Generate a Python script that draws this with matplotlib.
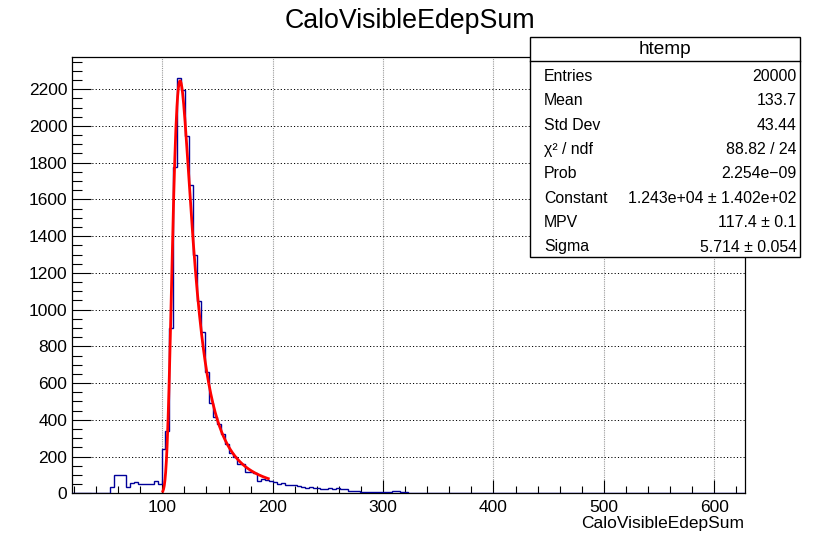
import numpy as np
import matplotlib
matplotlib.use("Agg")
import matplotlib.pyplot as plt
from matplotlib.patches import Rectangle
from matplotlib.ticker import MultipleLocator

plt.rcParams['font.family'] = ['Liberation Sans', 'DejaVu Sans']

# histogram htemp: fixed-width bins starting at bin_lo
bin_lo = 16.5
bin_width = 3.6
counts = [
    0, 0, 0, 0, 0, 0, 0, 0, 0, 0,
    36, 99, 100, 98, 36, 58, 62, 50, 48, 50,
    49, 68, 50, 240, 340, 900, 1775, 2263, 2195, 1947,
    1680, 1300, 1045, 880, 660, 490, 414, 378, 324, 270,
    220, 198, 162, 160, 117, 115, 113, 68, 76, 70,
    67, 63, 51, 55, 45, 44, 45, 40, 33, 31,
    33, 29, 27, 22, 24, 27, 26, 27, 22, 22,
    14, 14, 13, 9, 9, 7, 5, 6, 9, 9,
    8, 11, 13, 5, 5, 4, 4, 3, 4, 3,
    4, 3, 4, 3, 3, 0, 2, 2, 2, 0,
    0, 0, 0, 0, 2, 2, 0, 2, 0, 0,
    0, 0, 0, 0, 0, 0, 0, 0, 0, 1,
    0, 0, 0, 0, 0, 0, 0, 0, 0, 0,
    0, 0, 0, 0, 0, 0, 0, 0, 0, 0,
    0, 0, 0, 0, 0, 0, 0, 0, 0, 0,
    0, 0, 0, 0, 0, 0, 0, 0, 0, 0,
    0, 0, 0, 0, 0, 0, 0, 0, 0, 0,
]

# landau fit result
fit_const = 1.243e4
fit_mpv = 117.4
fit_sigma = 5.714
fit_range = (100.5, 196.0)

x_range = (18.5, 627.8)
y_max = 2377

stat_title = "htemp"
stat_names = ["Entries", "Mean", "Std Dev", "\u03c7\u00b2 / ndf", "Prob",
              "Constant", "MPV", "Sigma"]
stat_values = ["20000", "133.7", "43.44", "88.82 / 24", "2.254e\u221209",
               "1.243e+04 \u00b1 1.402e+02", "117.4 \u00b1 0.1",
               "5.714 \u00b1 0.054"]


def landau_density(lam):
    # inverse Laplace integral along Re(s) = c
    c = max(np.exp(-1.0 - lam), 0.2)
    y = np.linspace(0.0, 25.0, 100001)
    s = c + 1j * y
    f = np.exp(s * np.log(s) + lam * s)
    return np.trapezoid(f.real, y) / np.pi


edges = bin_lo + bin_width * np.arange(len(counts) + 1)

fx = np.linspace(fit_range[0], fit_range[1], 300)
fy = np.array([fit_const * landau_density((v - fit_mpv) / fit_sigma) for v in fx])

W, H = 815, 536
fig = plt.figure(figsize=(W / 100, H / 100), dpi=100)
ax = fig.add_axes([72.3 / W, 1 - 493.3 / H, (745 - 72.3) / W, (493.3 - 56.7) / H])

ax.stairs(counts, edges, color='#000099', lw=1.0, zorder=3)
ax.plot(fx, fy, color='#ff0000', lw=2.0, zorder=4)

ax.set_xlim(*x_range)
ax.set_ylim(0, y_max)

ax.xaxis.set_major_locator(MultipleLocator(100))
ax.xaxis.set_minor_locator(MultipleLocator(20))
ax.yaxis.set_major_locator(MultipleLocator(200))
ax.yaxis.set_minor_locator(MultipleLocator(50))

ax.tick_params(axis='both', which='both', direction='in', top=False, right=False,
               labelsize=12.5, color='black', width=0.8)
ax.tick_params(axis='x', which='major', length=9.7, pad=5)
ax.tick_params(axis='x', which='minor', length=4.7)
ax.tick_params(axis='y', which='major', length=13.7, pad=3.5)
ax.tick_params(axis='y', which='minor', length=7.2)

ax.set_axisbelow(True)
ax.yaxis.grid(True, which='major', color='black', ls=(0, (1.2, 2.2)), lw=0.7)
ax.xaxis.grid(True, which='major', color='#9a9a9a', ls=(0, (1, 1)), lw=0.8)

for sp in ax.spines.values():
    sp.set_linewidth(0.9)
    sp.set_color('black')

fig.text(409.5 / W, 1 - 28 / H, "CaloVisibleEdepSum", ha='center', va='baseline',
         fontsize=19.3)
fig.text(744 / W, 1 - 528.3 / H, "CaloVisibleEdepSum", ha='right', va='baseline',
         fontsize=12.5)

# statistics box
bx0, bx1 = 530 / W, 800 / W
by_top, by_bot = 1 - 37.3 / H, 1 - 257.3 / H
fig.add_artist(Rectangle((bx0, by_bot), bx1 - bx0, by_top - by_bot,
                         transform=fig.transFigure, fc='white', ec='black',
                         lw=1.0, zorder=10))
fig.add_artist(plt.Line2D([bx0, bx1], [1 - 61 / H, 1 - 61 / H],
                          transform=fig.transFigure, color='black', lw=1.0,
                          zorder=11))
fig.text((bx0 + bx1) / 2, 1 - 54 / H, stat_title, ha='center', va='baseline',
         fontsize=13.7, zorder=12)
for i, (name, val) in enumerate(zip(stat_names, stat_values)):
    yb = 1 - (80.7 + 24.4 * i) / H
    fig.text(544 / W, yb, name, ha='left', va='baseline', fontsize=11.4, zorder=12)
    fig.text(796.7 / W, yb, val, ha='right', va='baseline', fontsize=11.4, zorder=12)

fig.savefig("out.png", dpi=100)
